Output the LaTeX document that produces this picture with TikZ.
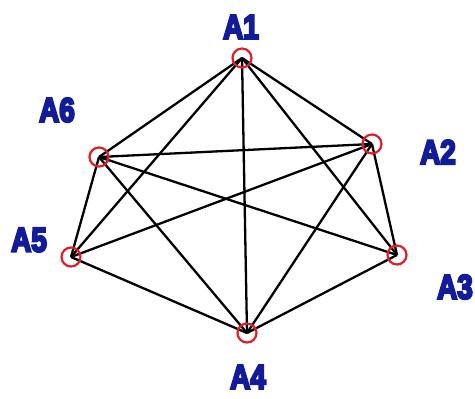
\documentclass[tikz,border=0pt]{standalone}
\usepackage{fontspec}
\setmainfont{Liberation Sans}
\newfontfamily\lblfont[FakeBold=7]{Liberation Sans Bold}
\definecolor{lblblue}{RGB}{18,28,155}
\definecolor{ringred}{RGB}{225,30,40}
\tikzset{
  vertex/.style={circle,draw=ringred,line width=2.2pt,minimum size=19pt,inner sep=0pt},
  edge/.style={draw=black,line width=2.3pt},
  lbl/.style={text=lblblue,font=\fontsize{34}{34}\lblfont,inner sep=0pt,xscale=0.82}
}
\begin{document}
\begin{tikzpicture}[x=1pt,y=-1pt]
\useasboundingbox (0,0) rectangle (475,399);
\coordinate (c1) at (242,58);
\coordinate (c2) at (372,144);
\coordinate (c3) at (397,255);
\coordinate (c4) at (247,333);
\coordinate (c5) at (71,257);
\coordinate (c6) at (99,157);
\foreach \a/\b in {1/2,1/3,1/4,1/5,1/6,2/3,2/4,2/5,2/6,3/4,3/6,4/5,4/6,5/6}
  \draw[edge] (c\a) -- (c\b);
\foreach \i in {1,...,6}
  \node[vertex] (v\i) at (c\i) {};
\node[lbl] (l1) at (241,27) {A1};
\node[lbl] (l2) at (438,152) {A2};
\node[lbl] (l3) at (455,287) {A3};
\node[lbl] (l4) at (248,377) {A4};
\node[lbl] (l5) at (29,240) {A5};
\node[lbl] (l6) at (57,110) {A6};
\end{tikzpicture}
\end{document}
